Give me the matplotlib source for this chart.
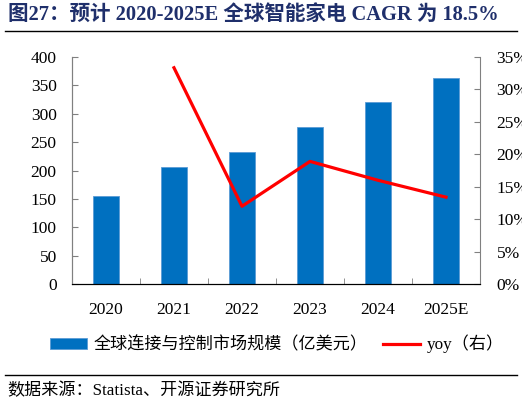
import matplotlib
matplotlib.use('Agg')
import matplotlib.pyplot as plt
from matplotlib.lines import Line2D
from matplotlib.patches import Patch
from matplotlib.ticker import FuncFormatter

plt.rcParams['font.family'] = ['Liberation Serif', 'Noto Sans CJK SC']

years = ['2020', '2021', '2022', '2023', '2024', '2025E']
market = [156, 207, 232, 276, 320, 363]
yoy_years = ['2021', '2022', '2023', '2024', '2025E']
yoy = [33.3, 12.0, 18.9, 16.0, 13.4]

title = '图27：预计 2020-2025E 全球智能家电 CAGR 为 18.5%'
bar_label = '全球连接与控制市场规模（亿美元）'
line_label = 'yoy（右）'
source = '数据来源：Statista、开源证券研究所'

fig = plt.figure(figsize=(5.22, 4.05), dpi=100)
ax = fig.add_axes([0.1379, 0.298, 0.7816, 0.562])
ax2 = ax.twinx()

x = list(range(len(years)))
ax.bar(x, market, width=0.39, color='#0070C0', edgecolor='#5B9BD5', linewidth=0.6, zorder=2)
yoy_x = [years.index(y) for y in yoy_years]
ax2.plot(yoy_x, yoy, color='#FF0000', linewidth=2.3, zorder=3)

ax.set_xlim(-0.5, len(years) - 0.5)
ax.set_ylim(0, 400)
ax.set_yticks(range(0, 401, 50))
ax2.set_ylim(0, 35)
ax2.set_yticks(range(0, 36, 5))
ax2.yaxis.set_major_formatter(FuncFormatter(lambda v, p: '%d%%' % v))

ax.set_xticks(x)
ax.set_xticklabels(years)
ax.set_xticks([i + 0.5 for i in range(len(years) - 1)], minor=True)
ax.tick_params(axis='x', which='major', length=0, pad=13, labelsize=12.5)
ax.tick_params(axis='x', which='minor', direction='in', length=4.5, color='#808080')
ax.tick_params(axis='y', direction='in', length=4, pad=11, labelsize=12.5, color='#808080')
ax2.tick_params(axis='y', direction='in', length=4, pad=12, labelsize=12.5, color='#808080')

for a in (ax, ax2):
    a.spines['top'].set_visible(False)
    a.spines['left'].set_color('#808080')
    a.spines['right'].set_color('#808080')
    a.spines['bottom'].set_color('black')
ax.spines['right'].set_visible(False)

fig.text(8 / 522, 1 - 16 / 405, title, fontsize=14.8, fontweight='bold',
         color='#1F2F6B', va='center', ha='left')
fig.add_artist(Line2D([5 / 522, 517 / 522], [1 - 31 / 405] * 2, color='black', linewidth=1))
fig.add_artist(Line2D([5 / 522, 517 / 522], [1 - 375 / 405] * 2, color='black', linewidth=1))

handles = [Patch(facecolor='#0070C0', edgecolor='#5B9BD5', linewidth=0.6),
           Line2D([], [], color='#FF0000', linewidth=2.3)]
fig.legend(handles, [bar_label, line_label], loc='center', ncol=2,
           bbox_to_anchor=(0.53, 1 - 344 / 405), frameon=False, fontsize=12.3,
           handlelength=2.2, handleheight=0.6, handletextpad=0.35, columnspacing=0.9)

fig.text(7 / 522, 1 - 391 / 405, source, fontsize=12.3, va='center', ha='left')

fig.savefig('out.png', dpi=100)
